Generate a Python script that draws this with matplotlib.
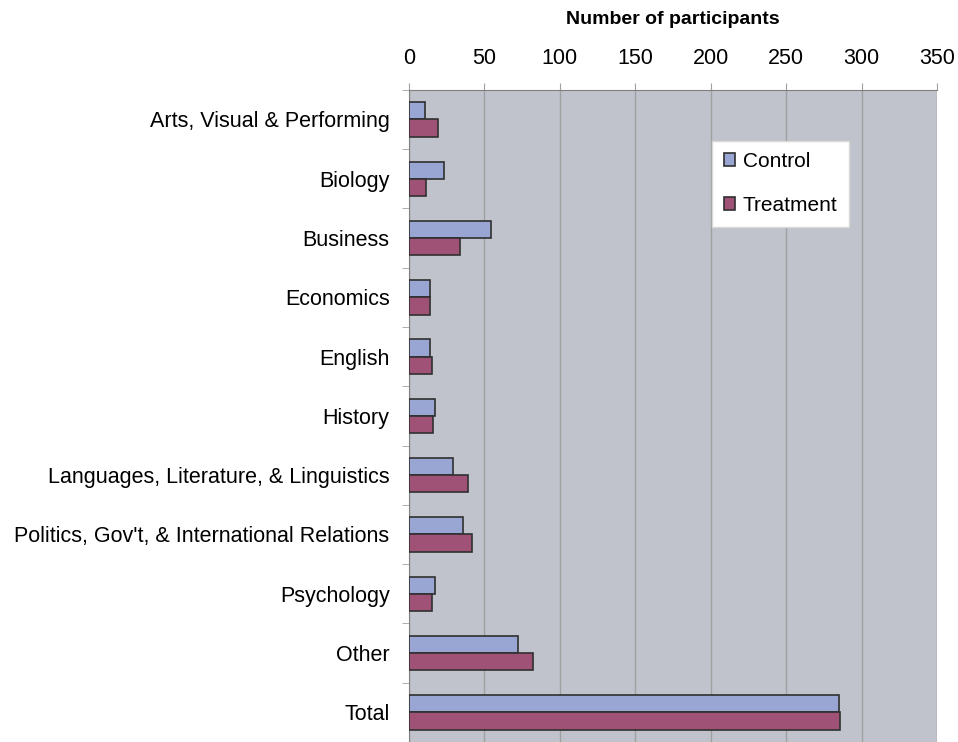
import numpy as np
import matplotlib
matplotlib.use('Agg')
import matplotlib.pyplot as plt

plt.rcParams['font.family'] = ['Liberation Sans', 'DejaVu Sans']

categories = ['Arts, Visual & Performing', 'Biology', 'Business', 'Economics', 'English',
              'History', 'Languages, Literature, & Linguistics',
              "Politics, Gov't, & International Relations", 'Psychology', 'Other', 'Total']
control = [10.5, 23, 54, 14, 14, 17, 29, 36, 17, 72, 285]
treatment = [19, 11.5, 34, 14, 15, 16, 39, 42, 15, 82, 286]

fig = plt.figure(figsize=(9.58, 7.42), dpi=100)
ax = fig.add_axes([0.427, 0.0, 0.551, 0.879])
ax.set_facecolor('#c0c3cb')

y = np.arange(len(categories))
h = 0.29
ax.barh(y - h / 2, control, height=h, color='#99a6d4', edgecolor='#303030', lw=1.2,
        label='Control', zorder=3)
ax.barh(y + h / 2, treatment, height=h, color='#a05276', edgecolor='#303030', lw=1.2,
        label='Treatment', zorder=3)

ax.set_xlim(0, 350)
ax.set_ylim(len(categories) - 0.5, -0.5)
ax.set_xticks(np.arange(0, 351, 50))
ax.xaxis.tick_top()
ax.xaxis.set_label_position('top')
ax.set_xlabel('Number of participants', fontsize=14, fontweight='bold', labelpad=17)
ax.tick_params(axis='x', labelsize=15.5, length=5, color='#a0a0a0', pad=10)
ax.grid(axis='x', color='#a0a0a0', lw=1, zorder=0)

ax.set_yticks(y)
ax.set_yticklabels(categories, fontsize=15.5)
ax.set_yticks(np.arange(-0.5, len(categories), 1), minor=True)
ax.tick_params(axis='y', which='major', length=0, pad=14)
ax.tick_params(axis='y', which='minor', length=5, color='#a0a0a0')

for s in ['top', 'left']:
    ax.spines[s].set_color('#808080')
for s in ['bottom', 'right']:
    ax.spines[s].set_visible(False)

leg = ax.legend(loc='upper right', bbox_to_anchor=(0.833, 0.922), fontsize=15,
                frameon=True, fancybox=False, handlelength=0.55, handleheight=0.55,
                handletextpad=0.35, labelspacing=1.2, borderpad=0.55, borderaxespad=0)
leg.get_frame().set_edgecolor('#d8d8d8')
leg.get_frame().set_facecolor('white')
leg.get_frame().set_alpha(1)

fig.savefig('out.png', dpi=100)
